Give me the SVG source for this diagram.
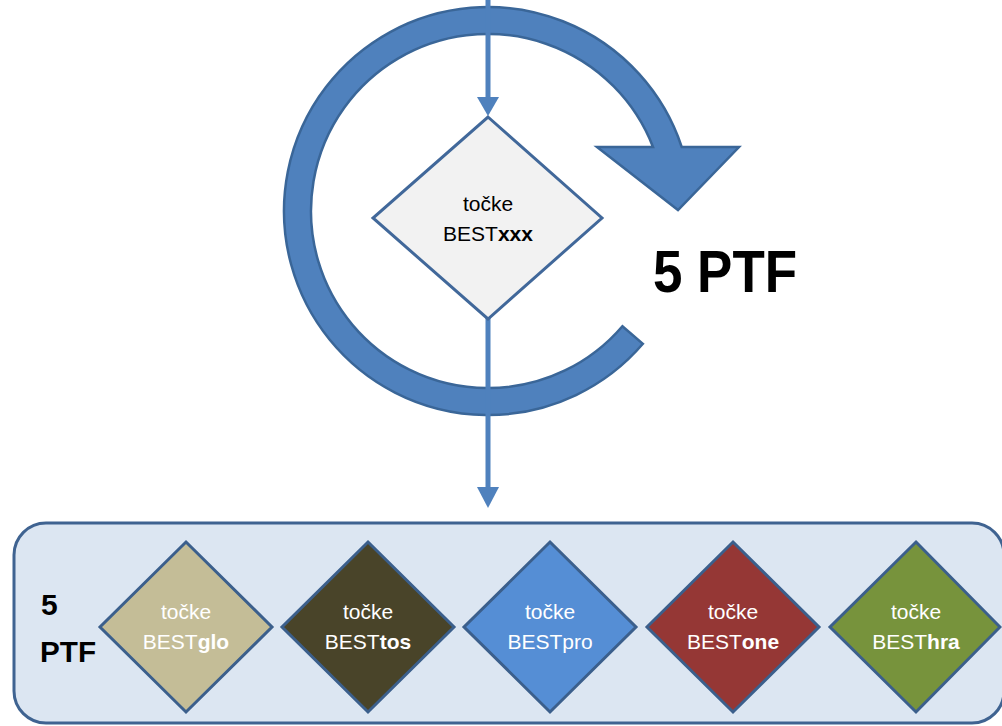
<svg xmlns="http://www.w3.org/2000/svg" width="1002" height="726" viewBox="0 0 1002 726">
<style>
.t{font-family:"Liberation Sans",Arial,sans-serif;font-size:21px;text-anchor:middle}
.w{fill:#FFFFFF}
.k{fill:#000000}
.b{font-weight:bold}
.dm{stroke:#3B5F8C;stroke-width:3;stroke-linejoin:miter}
.ln{stroke:#4F81BD;stroke-width:5;fill:none}
.ah{fill:#4F81BD}
</style>
<rect width="1002" height="726" fill="#FFFFFF"/>
<g id="panel">
<rect x="14" y="523" width="990" height="200" rx="32" ry="32" fill="#DCE6F2" stroke="#3F6391" stroke-width="3"/>
<text class="t b k" x="41" y="615" style="font-size:30px;text-anchor:start">5</text>
<text class="t b k" x="40" y="662" style="font-size:30px;text-anchor:start" textLength="56" lengthAdjust="spacingAndGlyphs">PTF</text>
</g>
<g id="cycle">
<path d="M622.4,326.2 L642.9,343.8 A204,204 0 1 1 681.7,147 L739,147 L678,210 L597,147 L653,147 A177,177 0 1 0 622.4,326.2 Z" fill="#4F81BD" stroke="#3A6698" stroke-width="2.5" stroke-linejoin="miter"/>
</g>
<g id="connectors">
<line class="ln" x1="488" y1="0" x2="488" y2="99"/>
<polygon class="ah" points="477,97 499,97 488,116"/>
<line class="ln" x1="488" y1="318" x2="488" y2="489"/>
<polygon class="ah" points="477,487 499,487 488,508"/>
</g>
<g id="node-xxx">
<polygon points="488,117 602,218 488,319 373,218" fill="#F2F2F2" stroke="#41689A" stroke-width="3"/>
<text class="t k" x="488" y="211">točke</text>
<text class="t k" x="488" y="241">BEST<tspan class="b">xxx</tspan></text>
</g>
<g id="label-5ptf">
<text class="t b k" x="725" y="292" style="font-size:60px" textLength="144" lengthAdjust="spacingAndGlyphs">5 PTF</text>
</g>
<g id="node-glo">
<polygon class="dm" points="186,542 272,627 186,712 100,627" fill="#C4BD97"/>
<text class="t w" x="186" y="619">točke</text>
<text class="t w" x="186" y="649">BEST<tspan class="b">glo</tspan></text>
</g>
<g id="node-tos">
<polygon class="dm" points="368,542 454,627 368,712 282,627" fill="#494429"/>
<text class="t w" x="368" y="619">točke</text>
<text class="t w" x="368" y="649">BEST<tspan class="b">tos</tspan></text>
</g>
<g id="node-pro">
<polygon class="dm" points="550,542 636,627 550,712 464,627" fill="#558ED5"/>
<text class="t w" x="550" y="619">točke</text>
<text class="t w" x="550" y="649">BESTpro</text>
</g>
<g id="node-one">
<polygon class="dm" points="733,542 819,627 733,712 647,627" fill="#953735"/>
<text class="t w" x="733" y="619">točke</text>
<text class="t w" x="733" y="649">BEST<tspan class="b">one</tspan></text>
</g>
<g id="node-hra">
<polygon class="dm" points="916,542 1000,627 916,712 830,627" fill="#77933C"/>
<text class="t w" x="916" y="619">točke</text>
<text class="t w" x="916" y="649">BEST<tspan class="b">hra</tspan></text>
</g>
</svg>
